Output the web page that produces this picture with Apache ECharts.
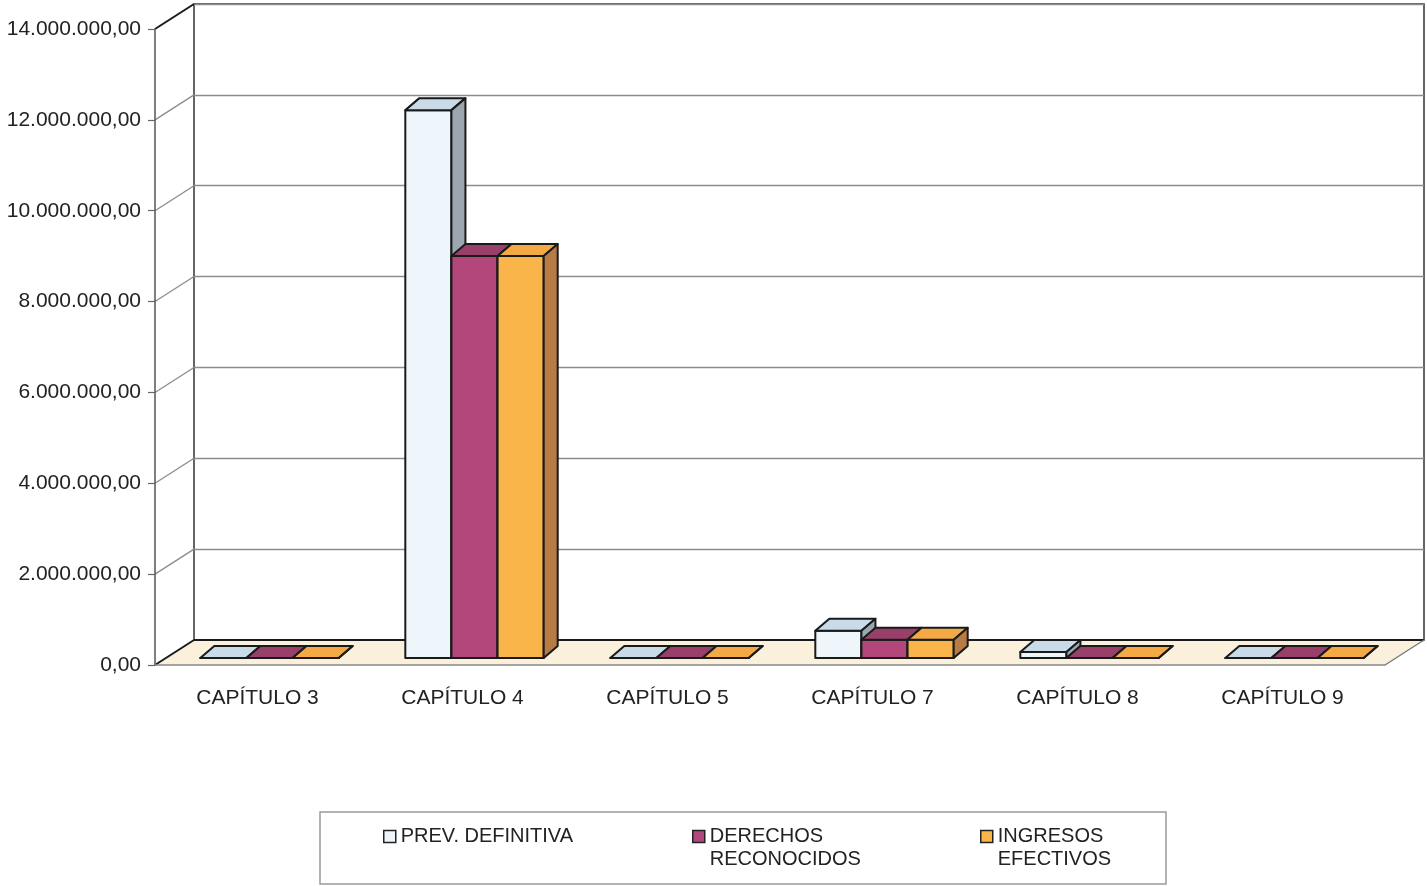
<!DOCTYPE html>
<html>
<head>
<meta charset="utf-8">
<title>Capítulos de ingresos</title>
<script src="https://cdn.jsdelivr.net/npm/echarts@6/dist/echarts.min.js"></script>
<style>
  html, body { margin: 0; padding: 0; background: #fff; }
  #chart { width: 1427px; height: 886px; }
</style>
</head>
<body>
<div id="chart"></div>
<script>
// Data
const categories = ['CAPÍTULO 3', 'CAPÍTULO 4', 'CAPÍTULO 5', 'CAPÍTULO 7', 'CAPÍTULO 8', 'CAPÍTULO 9'];
const prevDefinitiva = [0, 12060000, 0, 600000, 130000, 0];
const derechosReconocidos = [0, 8850000, 0, 400000, 0, 0];
const ingresosEfectivos = [0, 8850000, 0, 400000, 0, 0];
const yTicks = [0, 2000000, 4000000, 6000000, 8000000, 10000000, 12000000, 14000000];

const FONT = "'Liberation Sans', Arial, sans-serif";

// pseudo 3D offsets (pixels)
const WALL_DX = 39, WALL_DY = 25;   // depth of the floor / left wall
const ROW_DX = 12, ROW_DY = 7;      // bars sit slightly behind the front plane
const BAR_DX = 14, BAR_DY = 12;     // depth of each bar

/**
 * Spanish number format: 14.000.000,00
 */
function fmt(v) {
    const parts = Math.round(v).toString().replace(/\B(?=(\d{3})+(?!\d))/g, '.');
    return parts + ',00';
}

/**
 * Render one 3D bar (front, top, side faces)
 */
function barRenderer(k, faces) {
    return function (params, api) {
        const base = api.coord([api.value(0), 0]);
        const top = api.coord([api.value(0), api.value(1)]);
        const w = api.size([1, 0])[0] * 0.225;
        const x0 = base[0] - 1.5 * w + k * w + ROW_DX;
        const x1 = x0 + w;
        const yb = base[1] - ROW_DY;
        const yt = top[1] - ROW_DY;
        const st = { stroke: '#1a1a1a', lineWidth: 2, lineJoin: 'round' };
        return {
            type: 'group',
            children: [
                {
                    type: 'polygon',
                    shape: { points: [[x0, yb], [x1, yb], [x1, yt], [x0, yt]] },
                    style: Object.assign({ fill: faces[0] }, st),
                },
                {
                    type: 'polygon',
                    shape: { points: [[x0, yt], [x1, yt], [x1 + BAR_DX, yt - BAR_DY], [x0 + BAR_DX, yt - BAR_DY]] },
                    style: Object.assign({ fill: faces[1] }, st),
                },
                {
                    type: 'polygon',
                    shape: { points: [[x1, yb], [x1 + BAR_DX, yb - BAR_DY], [x1 + BAR_DX, yt - BAR_DY], [x1, yt]] },
                    style: Object.assign({ fill: faces[2] }, st),
                },
            ],
        };
    };
}

function barSeries(name, values, k, faces) {
    return {
        name: name,
        type: 'custom',
        xAxisIndex: 0,
        yAxisIndex: 0,
        itemStyle: { color: faces[0] },
        renderItem: barRenderer(k, faces),
        encode: { x: 0, y: 1 },
        data: values.map((v, i) => [i, v]),
        z: 5,
    };
}

const chart = echarts.init(document.getElementById('chart'));

const legendBase = {
    orient: 'horizontal',
    top: 825,
    padding: 0,
    itemWidth: 12,
    itemHeight: 12,
    icon: 'rect',
    selectedMode: false,
    itemStyle: { borderColor: '#222', borderWidth: 1.5 },
    textStyle: { fontFamily: FONT, fontSize: 20, color: '#222', lineHeight: 23 },
};

// two-line legend names: an empty first line keeps the icon level with the first word
const twoLines = n => '\n' + n.replace(' ', '\n');

const option = {
    backgroundColor: '#fff',
    animation: false,
    grid: [
        // front plane (axes)
        { left: 155, right: 42, top: 29, bottom: 221 },
        // back wall
        {
            left: 155 + WALL_DX, right: 42 - WALL_DX, top: 29 - WALL_DY, bottom: 221 + WALL_DY,
            show: true, backgroundColor: '#fff', borderColor: '#333', borderWidth: 1.5,
        },
    ],
    xAxis: [
        {
            type: 'category',
            gridIndex: 0,
            data: categories,
            axisLine: { lineStyle: { color: '#888', width: 1.5 } },
            axisTick: { length: 14, lineStyle: { color: '#777', width: 1.2 } },
            axisLabel: { fontFamily: FONT, fontSize: 21, color: '#222', margin: 23 },
            z: 3,
        },
        { type: 'category', gridIndex: 1, data: categories, show: false },
    ],
    yAxis: [
        {
            type: 'value',
            gridIndex: 0,
            min: 0,
            max: 14000000,
            interval: 2000000,
            axisLine: { show: true, lineStyle: { color: '#555', width: 1.5 } },
            axisTick: { show: true, length: 7, lineStyle: { color: '#666', width: 1.2 } },
            axisLabel: { fontFamily: FONT, fontSize: 21, color: '#222', margin: 14, formatter: fmt },
            splitLine: { show: false },
            z: 3,
        },
        {
            type: 'value',
            gridIndex: 1,
            min: 0,
            max: 14000000,
            interval: 2000000,
            axisLine: { show: false },
            axisTick: { show: false },
            axisLabel: { show: false },
            splitLine: { lineStyle: { color: '#8c8c8c', width: 1.3 } },
        },
    ],
    legend: [
        Object.assign({}, legendBase, { left: 383, data: ['PREV. DEFINITIVA'] }),
        Object.assign({}, legendBase, { left: 692, top: 802, data: ['DERECHOS RECONOCIDOS'], formatter: twoLines }),
        Object.assign({}, legendBase, { left: 980, top: 802, data: ['INGRESOS EFECTIVOS'], formatter: twoLines }),
    ],
    graphic: [
        {
            type: 'rect',
            shape: { x: 320, y: 812, width: 846, height: 72 },
            style: { fill: 'none', stroke: '#9a9a9a', lineWidth: 1.5 },
            z: 0,
        },
    ],
    series: [
        // floor
        {
            type: 'custom',
            xAxisIndex: 0,
            yAxisIndex: 0,
            silent: true,
            z: 1,
            data: [[0, 0]],
            renderItem: (params, api) => {
                const c = params.coordSys;
                const yf = c.y + c.height;
                const yb = yf - WALL_DY;
                return {
                    type: 'group',
                    children: [
                        {
                            type: 'polygon',
                            shape: { points: [[c.x, yf], [c.x + c.width, yf], [c.x + c.width + WALL_DX, yb], [c.x + WALL_DX, yb]] },
                            style: { fill: '#fbf0dc', stroke: null },
                        },
                        {
                            type: 'line',
                            shape: { x1: c.x + WALL_DX, y1: yb, x2: c.x + c.width + WALL_DX, y2: yb },
                            style: { stroke: '#1a1a1a', lineWidth: 2 },
                        },
                        {
                            type: 'line',
                            shape: { x1: c.x + c.width, y1: yf, x2: c.x + c.width + WALL_DX, y2: yb },
                            style: { stroke: '#777', lineWidth: 1.3 },
                        },
                    ],
                };
            },
        },
        // left wall lines
        {
            type: 'custom',
            xAxisIndex: 0,
            yAxisIndex: 0,
            silent: true,
            z: 2,
            data: yTicks.map(v => [0, v]),
            renderItem: (params, api) => {
                const v = api.value(1);
                const p = api.coord([0, v]);
                const x = params.coordSys.x;
                const edge = v === 0 || v === yTicks[yTicks.length - 1];
                return {
                    type: 'line',
                    shape: { x1: x, y1: p[1], x2: x + WALL_DX, y2: p[1] - WALL_DY },
                    style: { stroke: edge ? '#1a1a1a' : '#8c8c8c', lineWidth: edge ? 2 : 1.3 },
                };
            },
        },
        barSeries('PREV. DEFINITIVA', prevDefinitiva, 0, ['#eef6fb', '#c9dbe8', '#9ca6b0']),
        barSeries('DERECHOS RECONOCIDOS', derechosReconocidos, 1, ['#b3477b', '#983f6a', '#7e3058']),
        barSeries('INGRESOS EFECTIVOS', ingresosEfectivos, 2, ['#f9b54a', '#f3a944', '#b77b45']),
    ],
};

chart.setOption(option);
window.addEventListener('resize', () => chart.resize());
</script>
</body>
</html>
